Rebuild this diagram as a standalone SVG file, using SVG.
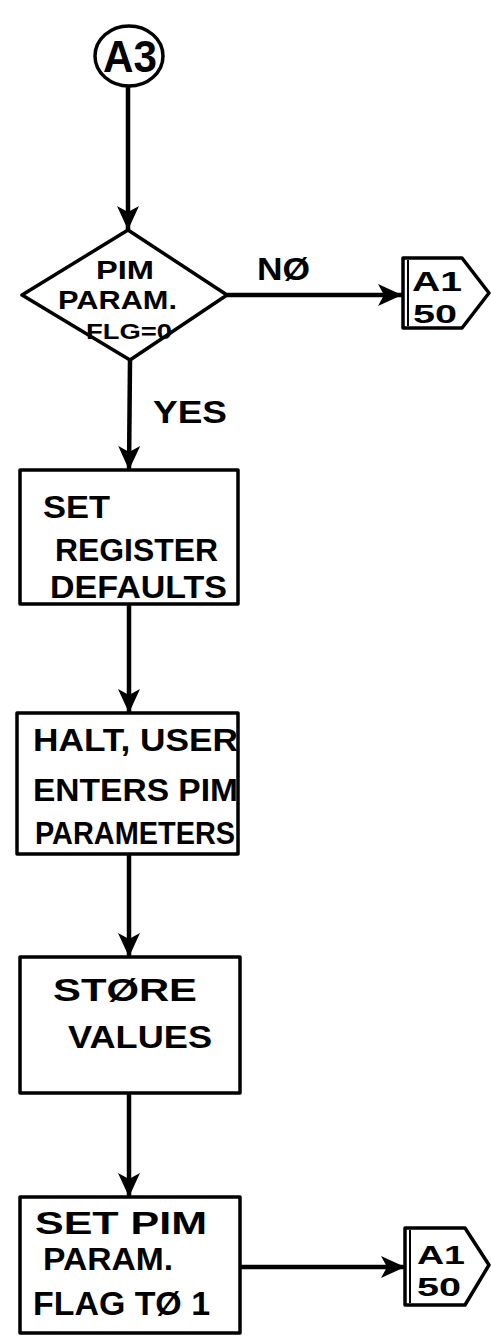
<svg xmlns="http://www.w3.org/2000/svg" width="491" height="1342" viewBox="0 0 491 1342">
<style>
.s{fill:#fff;stroke:#000;stroke-width:3.5;stroke-linejoin:round}
.t{font-family:"Liberation Sans",Arial,sans-serif;font-weight:bold;fill:#000;font-size:32px}
.c{stroke:#000;stroke-width:4.5;fill:none}
</style>
<defs>
<marker id="ah" markerUnits="userSpaceOnUse" markerWidth="26" markerHeight="26" viewBox="0 0 26 26" refX="24" refY="13" orient="auto">
<path d="M0,2 L24,13 L0,24 L6,13 Z" fill="#000"/>
</marker>
</defs>
<rect width="491" height="1342" fill="#fff"/>
<g id="connectors">
<line class="c" x1="128" y1="86" x2="128" y2="230" marker-end="url(#ah)"/>
<line class="c" x1="227" y1="295" x2="402" y2="295" marker-end="url(#ah)"/>
<line class="c" x1="130" y1="360" x2="129" y2="470" marker-end="url(#ah)"/>
<line class="c" x1="129" y1="604" x2="129" y2="713" marker-end="url(#ah)"/>
<line class="c" x1="129" y1="854" x2="129" y2="957" marker-end="url(#ah)"/>
<line class="c" x1="129" y1="1093" x2="129" y2="1197" marker-end="url(#ah)"/>
<line class="c" x1="240" y1="1267" x2="405" y2="1267" marker-end="url(#ah)"/>
<text class="t" x="257" y="280" textLength="53" lengthAdjust="spacingAndGlyphs">NØ</text>
<text class="t" x="153" y="423" textLength="74" lengthAdjust="spacingAndGlyphs">YES</text>
</g>
<g id="start">
<ellipse class="s" cx="129" cy="56" rx="34" ry="30"/>
<text class="t" x="103" y="72" style="font-size:44px" textLength="54" lengthAdjust="spacingAndGlyphs">A3</text>
</g>
<g id="decision">
<polygon class="s" points="128,230 227,295 130,360 22,295"/>
<text class="t" x="96" y="279" style="font-size:25px" textLength="58" lengthAdjust="spacingAndGlyphs">PIM</text>
<text class="t" x="58" y="309" style="font-size:25px" textLength="119" lengthAdjust="spacingAndGlyphs">PARAM.</text>
<text class="t" x="86" y="339" style="font-size:22px" textLength="86" lengthAdjust="spacingAndGlyphs">FLG=0</text>
</g>
<g id="offpage1">
<path class="s" d="M403,258 H462 L489,293 L462,328 H403 Z"/>
<line x1="408" y1="260" x2="408" y2="326" stroke="#000" stroke-width="2"/>
<text class="t" x="412" y="291" style="font-size:27px" textLength="50" lengthAdjust="spacingAndGlyphs">A1</text>
<text class="t" x="413" y="323" style="font-size:26px" textLength="44" lengthAdjust="spacingAndGlyphs">50</text>
</g>
<g id="box1">
<rect class="s" x="20" y="470" width="218" height="134"/>
<text class="t" x="43" y="518" textLength="67" lengthAdjust="spacingAndGlyphs">SET</text>
<text class="t" x="55" y="561" textLength="163" lengthAdjust="spacingAndGlyphs">REGISTER</text>
<text class="t" x="50" y="598" textLength="177" lengthAdjust="spacingAndGlyphs">DEFAULTS</text>
</g>
<g id="box2">
<rect class="s" x="17" y="713" width="221" height="141"/>
<text class="t" x="33" y="751" textLength="205" lengthAdjust="spacingAndGlyphs">HALT, USER</text>
<text class="t" x="33" y="801" textLength="205" lengthAdjust="spacingAndGlyphs">ENTERS PIM</text>
<text class="t" x="35" y="844" textLength="200" lengthAdjust="spacingAndGlyphs">PARAMETERS</text>
</g>
<g id="box3">
<rect class="s" x="20" y="957" width="220" height="136"/>
<text class="t" x="53" y="1001" textLength="144" lengthAdjust="spacingAndGlyphs">STØRE</text>
<text class="t" x="68" y="1048" textLength="144" lengthAdjust="spacingAndGlyphs">VALUES</text>
</g>
<g id="box4">
<rect class="s" x="20" y="1197" width="220" height="136"/>
<text class="t" x="35" y="1234" textLength="172" lengthAdjust="spacingAndGlyphs">SET PIM</text>
<text class="t" x="43" y="1270" textLength="130" lengthAdjust="spacingAndGlyphs">PARAM.</text>
<text class="t" x="33" y="1315" style="font-size:34px" textLength="177" lengthAdjust="spacingAndGlyphs">FLAG TØ 1</text>
</g>
<g id="offpage2">
<path class="s" d="M405,1228 H465 L489,1265 L465,1305 H405 Z"/>
<line x1="410" y1="1230" x2="410" y2="1303" stroke="#000" stroke-width="2"/>
<text class="t" x="417" y="1264" style="font-size:26px" textLength="48" lengthAdjust="spacingAndGlyphs">A1</text>
<text class="t" x="417" y="1296" style="font-size:25px" textLength="44" lengthAdjust="spacingAndGlyphs">50</text>
</g>
</svg>
